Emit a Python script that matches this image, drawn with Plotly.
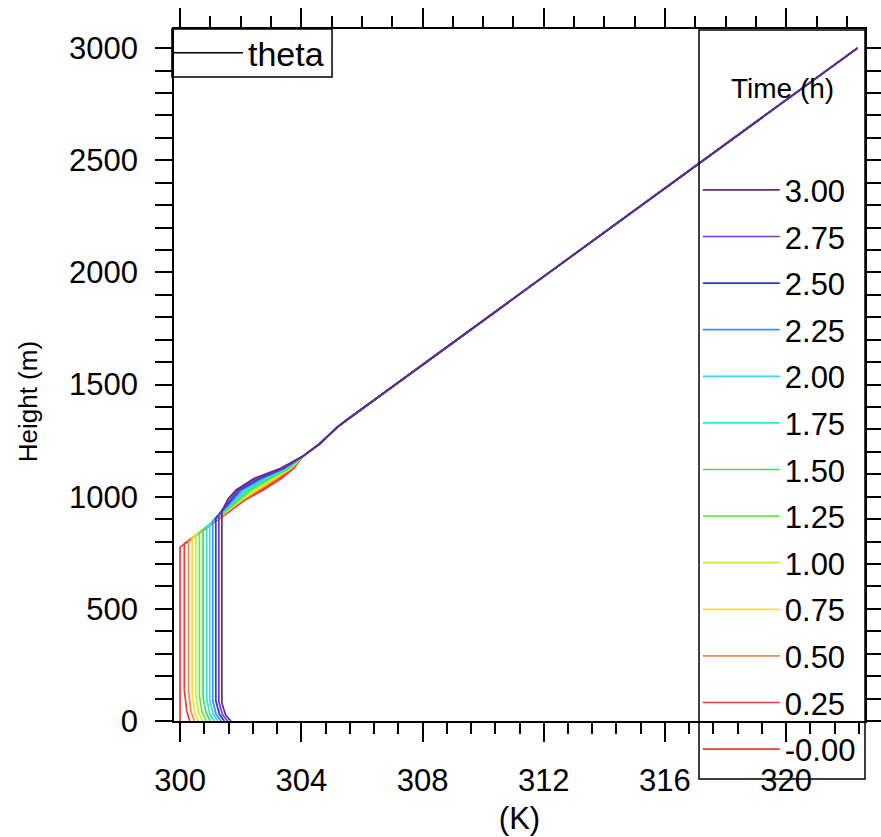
import plotly.graph_objects as go

# ---------------- data ----------------
TIME_LABELS = ["-0.00", "0.25", "0.50", "0.75", "1.00", "1.25", "1.50",
               "1.75", "2.00", "2.25", "2.50", "2.75", "3.00"]
COLORS = ["#f03a3a", "#f03a3a", "#f58a3c", "#f2e22a", "#bff03a", "#66e83c",
          "#35e06a", "#2fe8bf", "#3fd4fb", "#3d8ff0", "#2238e6", "#7536cf",
          "#6a2a78"]

# surface layer (potential temperature in K, heights in m)
THETA_SFC = [300.00, 300.32, 300.47, 300.60, 300.74, 300.87, 301.00,
             301.12, 301.24, 301.35, 301.46, 301.57, 301.68]
Z_SL_MID = [25, 45, 43, 40, 38, 37, 35, 33, 32, 30, 30, 28, 27]
THETA_SL_MID = [300.00, 300.22, 300.36, 300.48, 300.61, 300.73, 300.86,
                300.98, 301.09, 301.19, 301.30, 301.40, 301.50]
Z_SL_TOP = [75, 140, 130, 120, 115, 110, 105, 100, 95, 90, 90, 85, 80]
THETA_ML = [300.00, 300.14, 300.28, 300.40, 300.52, 300.64, 300.76,
            300.88, 300.98, 301.08, 301.18, 301.28, 301.38]
Z_ML_TOP = [775, 790, 805, 815, 828, 840, 852, 865, 878, 892, 905, 920, 935]

# entrainment zone
Z_ENT = [990, 1030, 1082, 1126]
THETA_990 = [302.20, 302.16, 302.12, 302.08, 302.04, 301.99, 301.94,
             301.89, 301.84, 301.78, 301.72, 301.65, 301.58]
THETA_1030 = [302.75, 302.68, 302.60, 302.52, 302.44, 302.36, 302.28,
              302.20, 302.12, 302.04, 301.97, 301.91, 301.85]
THETA_1082 = [303.35, 303.28, 303.21, 303.14, 303.07, 303.00, 302.93,
              302.86, 302.79, 302.72, 302.64, 302.55, 302.45]
THETA_1126 = [303.75, 303.72, 303.68, 303.65, 303.62, 303.58, 303.55,
              303.52, 303.48, 303.44, 303.40, 303.35, 303.30]

# free atmosphere (common to all times)
Z_UPPER = [1180, 1235, 1311, 1342, 3000]
THETA_UPPER = [304.05, 304.60, 305.20, 305.50, 322.35]

X_TICKS = [300, 304, 308, 312, 316, 320]
Y_TICKS = [0, 500, 1000, 1500, 2000, 2500, 3000]

FONT = "Liberation Sans, Arial, Helvetica, sans-serif"
FS = 31

fig = go.Figure()

n = len(TIME_LABELS)
for i, lab in enumerate(TIME_LABELS):
    z = ([0, Z_SL_MID[i], Z_SL_TOP[i], Z_ML_TOP[i]] + Z_ENT + Z_UPPER)
    th = ([THETA_SFC[i], THETA_SL_MID[i], THETA_ML[i], THETA_ML[i],
           THETA_990[i], THETA_1030[i], THETA_1082[i], THETA_1126[i]]
          + THETA_UPPER)
    fig.add_trace(go.Scatter(
        x=th, y=z, mode="lines", name=lab, legendgroup=lab,
        legendrank=n - i,
        line=dict(color=COLORS[i], width=1.7), hoverinfo="skip",
        legend="legend"))

# entry of the small "theta" legend (no data)
fig.add_trace(go.Scatter(
    x=[None], y=[None], mode="lines", name="theta", xaxis="x2",
    line=dict(color="black", width=1.3), legend="legend2", hoverinfo="skip"))

fig.update_layout(
    width=881, height=837,
    margin=dict(l=174, r=16, t=29, b=116, autoexpand=False),
    paper_bgcolor="white", plot_bgcolor="white",
    font=dict(family=FONT, size=FS, color="black"),
    xaxis=dict(
        range=[299.8, 322.6], tickvals=X_TICKS, ticks="outside", ticklen=19,
        tickwidth=1.5, tickcolor="black", showline=True, linecolor="black",
        linewidth=1.5, mirror=False, showgrid=False, zeroline=False,
        ticklabelstandoff=12, automargin=False,
        minor=dict(dtick=0.8, tick0=300, ticks="outside", ticklen=11,
                   tickwidth=1.5, tickcolor="black", showgrid=False),
        title=dict(text="(K)", standoff=10, font=dict(size=FS)),
    ),
    xaxis2=dict(
        overlaying="x", side="top", range=[299.8, 322.6], tickvals=X_TICKS,
        ticks="outside", ticklen=19, tickwidth=1.5, tickcolor="black",
        showticklabels=False, showline=True, linecolor="black", linewidth=1.5,
        showgrid=False, zeroline=False, automargin=False,
        minor=dict(dtick=1, tick0=300, ticks="outside", ticklen=11,
                   tickwidth=1.5, tickcolor="black", showgrid=False),
    ),
    yaxis=dict(
        range=[0, 3085], tickvals=Y_TICKS, ticks="outside", ticklen=17,
        tickwidth=1.5, tickcolor="black", showline=True, linecolor="black",
        linewidth=1.5, mirror="allticks", showgrid=False, zeroline=False,
        ticklabelstandoff=11, automargin=False,
        minor=dict(dtick=100, tick0=0, ticks="outside", ticklen=10,
                   tickwidth=1.5, tickcolor="black", showgrid=False),
    ),
    legend=dict(
        x=0.758, y=0.806, xanchor="left", yanchor="top",
        traceorder="grouped", tracegroupgap=3.3,
        bgcolor="rgba(0,0,0,0)", borderwidth=0,
        font=dict(family=FONT, size=FS), itemwidth=77,
    ),
    legend2=dict(
        x=-0.0087, y=1.007, xanchor="left", yanchor="top",
        bgcolor="rgba(0,0,0,0)", borderwidth=0,
        font=dict(family=FONT, size=34), itemwidth=70,
    ),
    annotations=[
        dict(text="Time (h)", x=0.8813, y=0.9147, xref="paper",
             yref="paper", showarrow=False, xanchor="center",
             yanchor="middle", font=dict(family=FONT, size=28)),
        dict(text="Height (m)", x=-0.2113, y=0.462, xref="paper",
             yref="paper", showarrow=False, xanchor="center",
             yanchor="middle", textangle=-90,
             font=dict(family=FONT, size=26)),
    ],
    shapes=[
        dict(type="rect", xref="paper", yref="paper", x0=0.7598, x1=1.0,
             y0=-0.0838, y1=0.9986, line=dict(color="black", width=1.5)),
        dict(type="rect", xref="paper", yref="paper", x0=-0.003, x1=0.2287,
             y0=0.9306, y1=1.0, line=dict(color="black", width=1.5)),
    ],
)

fig.write_html("out.html", config={"displayModeBar": False})

# remove the browser's default page margin so the figure starts at (0, 0)
with open("out.html", "r", encoding="utf-8") as f:
    html = f.read()
html = html.replace("<body>", '<body style="margin:0;padding:0;overflow:hidden">', 1)
with open("out.html", "w", encoding="utf-8") as f:
    f.write(html)
